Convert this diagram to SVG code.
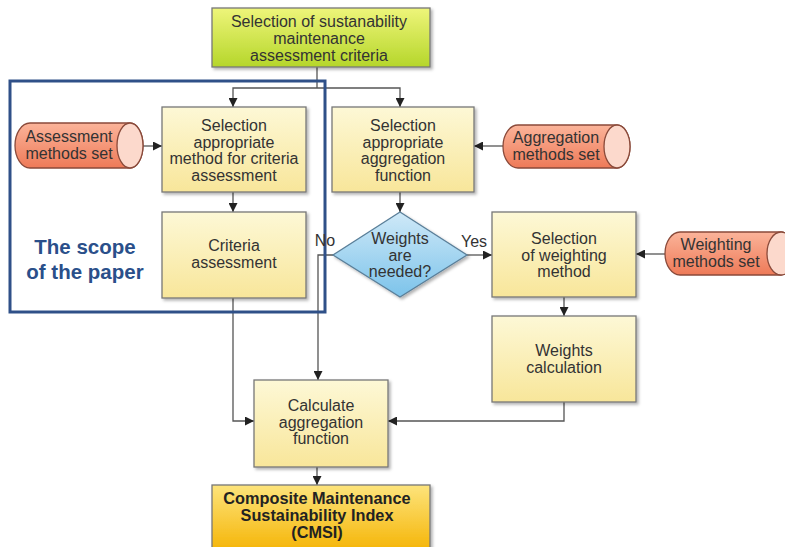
<svg xmlns="http://www.w3.org/2000/svg" width="785" height="547" viewBox="0 0 785 547">
<defs>
<linearGradient id="gY" x1="0" y1="0" x2="0" y2="1"><stop offset="0" stop-color="#fdf8d6"/><stop offset="1" stop-color="#f8e69a"/></linearGradient>
<linearGradient id="gG" x1="0" y1="0" x2="0" y2="1"><stop offset="0" stop-color="#eef57a"/><stop offset="1" stop-color="#b5d62a"/></linearGradient>
<linearGradient id="gO" x1="0" y1="0" x2="0" y2="1"><stop offset="0" stop-color="#fde47c"/><stop offset="1" stop-color="#f5b60a"/></linearGradient>
<linearGradient id="gR" x1="0" y1="0" x2="0" y2="1"><stop offset="0" stop-color="#fbb49a"/><stop offset="1" stop-color="#ee7a58"/></linearGradient>
<linearGradient id="gB" x1="0" y1="0" x2="0" y2="1"><stop offset="0" stop-color="#cfe9f8"/><stop offset="1" stop-color="#7cc3ea"/></linearGradient>
<filter id="sh" x="-10%" y="-10%" width="125%" height="130%"><feDropShadow dx="2" dy="2" stdDeviation="1.5" flood-color="#000" flood-opacity="0.3"/></filter>
<marker id="ar" viewBox="0 0 10 10" refX="10" refY="5" markerWidth="9" markerHeight="9" markerUnits="userSpaceOnUse" orient="auto"><path d="M0,0 L10,5 L0,10 z" fill="#222"/></marker>
</defs>
<style>
.box{fill:url(#gY);stroke:#777;stroke-width:1.3;filter:url(#sh)}
.t{font-family:"Liberation Sans",Arial,sans-serif;font-size:16px;fill:#333;text-anchor:middle}
.b{font-weight:bold;fill:#222;font-size:16.3px}
.c{stroke:#555;stroke-width:1.3;fill:none}
.ca{stroke:#555;stroke-width:1.3;fill:none;marker-end:url(#ar)}
.cyl{fill:url(#gR);stroke:#8a4a3a;stroke-width:1.3}
.cap{fill:#fcd9cc;stroke:#8a4a3a;stroke-width:1.3}
</style>
<rect width="785" height="547" fill="#fff"/>

<g id="connectors">
<path class="c" d="M317,67 V88"/>
<path class="ca" d="M317,88 H233 V107"/>
<path class="ca" d="M317,88 H400 V107"/>
<path class="ca" d="M130,146 H162"/>
<path class="ca" d="M233,192 V212"/>
<path class="ca" d="M503,146 H474"/>
<path class="ca" d="M400,192 V212"/>
<path class="ca" d="M467,255 H492"/>
<path class="ca" d="M333,255 H318 V380"/>
<path class="ca" d="M665,254 H636"/>
<path class="ca" d="M564,297 V316"/>
<path class="ca" d="M564,402 V421 H388"/>
<path class="ca" d="M233,298 V421 H254"/>
<path class="ca" d="M317,467 V485"/>
</g>

<g id="scope">
<rect x="10" y="81" width="315" height="231" fill="none" stroke="#2f5088" stroke-width="3"/>
<text class="t" x="85" y="254" style="font-size:20.5px;font-weight:bold;fill:#2a4f8a">The scope</text>
<text class="t" x="85" y="279" style="font-size:20.5px;font-weight:bold;fill:#2a4f8a">of the paper</text>
</g>

<g id="n-top">
<rect x="212" y="8" width="218" height="59" fill="url(#gG)" stroke="#777" stroke-width="1.3" filter="url(#sh)"/>
<text class="t" x="319" y="27">Selection of sustanability</text>
<text class="t" x="319" y="44">maintenance</text>
<text class="t" x="319" y="61">assessment criteria</text>
</g>

<g id="n-sel-method">
<rect class="box" x="162" y="107" width="144" height="85"/>
<text class="t" x="234" y="131">Selection</text>
<text class="t" x="234" y="148">appropriate</text>
<text class="t" x="234" y="164">method for criteria</text>
<text class="t" x="234" y="181">assessment</text>
</g>

<g id="n-criteria">
<rect class="box" x="162" y="212" width="144" height="86"/>
<text class="t" x="234" y="251">Criteria</text>
<text class="t" x="234" y="268">assessment</text>
</g>

<g id="n-assess-set">
<path class="cyl" d="M30,123 H130 A13,22.5 0 0 1 130,168 H30 A15,22.5 0 0 1 30,123 z"/>
<ellipse class="cap" cx="130" cy="145.5" rx="13" ry="22.5"/>
<text class="t" x="69" y="142">Assessment</text>
<text class="t" x="69" y="159">methods set</text>
</g>

<g id="n-sel-agg">
<rect class="box" x="332" y="107" width="142" height="85"/>
<text class="t" x="403" y="131">Selection</text>
<text class="t" x="403" y="148">appropriate</text>
<text class="t" x="403" y="164">aggregation</text>
<text class="t" x="403" y="181">function</text>
</g>

<g id="n-agg-set">
<path class="cyl" d="M518,125 H617 A13,21.5 0 0 1 617,168 H518 A15,21.5 0 0 1 518,125 z"/>
<ellipse class="cap" cx="617" cy="146.5" rx="13" ry="21.5"/>
<text class="t" x="556" y="143">Aggregation</text>
<text class="t" x="556" y="160">methods set</text>
</g>

<g id="n-decision">
<polygon points="400,212 467,255 400,297 333,255" fill="url(#gB)" stroke="#5a7f99" stroke-width="1.3" filter="url(#sh)"/>
<text class="t" x="400" y="244">Weights</text>
<text class="t" x="400" y="261">are</text>
<text class="t" x="400" y="277">needed?</text>
<text class="t" x="325" y="246">No</text>
<text class="t" x="474" y="247">Yes</text>
</g>

<g id="n-sel-weight">
<rect class="box" x="492" y="212" width="144" height="85"/>
<text class="t" x="564" y="244">Selection</text>
<text class="t" x="564" y="261">of weighting</text>
<text class="t" x="564" y="277">method</text>
</g>

<g id="n-weight-set">
<path class="cyl" d="M680,232 H781 A14,21.5 0 0 1 781,275 H680 A15,21.5 0 0 1 680,232 z"/>
<ellipse class="cap" cx="781" cy="253.5" rx="14" ry="21.5"/>
<text class="t" x="716" y="250">Weighting</text>
<text class="t" x="716" y="267">methods set</text>
</g>

<g id="n-weights-calc">
<rect class="box" x="492" y="316" width="144" height="86"/>
<text class="t" x="564" y="356">Weights</text>
<text class="t" x="564" y="373">calculation</text>
</g>

<g id="n-calc">
<rect class="box" x="254" y="380" width="134" height="87"/>
<text class="t" x="321" y="411">Calculate</text>
<text class="t" x="321" y="428">aggregation</text>
<text class="t" x="321" y="444">function</text>
</g>

<g id="n-cmsi">
<rect x="212" y="485" width="218" height="64" fill="url(#gO)" stroke="#777" stroke-width="1.3" filter="url(#sh)"/>
<text class="t b" x="317" y="504">Composite Maintenance</text>
<text class="t b" x="317" y="521">Sustainability Index</text>
<text class="t b" x="317" y="538">(CMSI)</text>
</g>
</svg>
